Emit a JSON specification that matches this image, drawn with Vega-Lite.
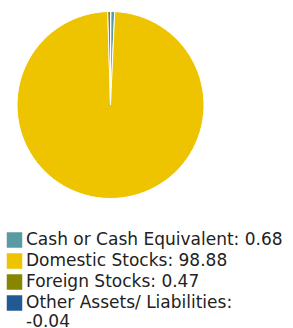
{
  "$schema": "https://vega.github.io/schema/vega-lite/v6.json",
  "width": 221,
  "height": 210,
  "padding": 0,
  "autosize": {"type": "pad"},
  "view": {"stroke": null},
  "data": {
    "values": [
      {"category": "Cash or Cash Equivalent: 0.68", "value": 0.68, "order": 1},
      {"category": "Domestic Stocks: 98.88", "value": 98.88, "order": 2},
      {"category": "Foreign Stocks: 0.47", "value": 0.47, "order": 3},
      {"category": "Other Assets/ Liabilities: -0.04", "value": -0.04, "order": 4}
    ]
  },
  "mark": {"type": "arc", "outerRadius": 93.5, "stroke": "white", "strokeWidth": 1},
  "encoding": {
    "theta": {"field": "value", "type": "quantitative", "stack": true},
    "order": {"field": "order", "type": "quantitative"},
    "color": {
      "field": "category",
      "type": "nominal",
      "sort": null,
      "scale": {
        "domain": ["Cash or Cash Equivalent: 0.68", "Domestic Stocks: 98.88", "Foreign Stocks: 0.47", "Other Assets/ Liabilities: -0.04"],
        "range": ["#5A9AA1", "#EEC300", "#868600", "#1F5A94"]
      },
      "legend": {
        "orient": "none",
        "legendX": 6,
        "legendY": 231.5,
        "title": null,
        "symbolType": "square",
        "symbolSize": 240,
        "symbolStrokeWidth": 0,
        "symbolOpacity": 1,
        "labelFont": "DejaVu Sans",
        "labelFontSize": 17,
        "labelColor": "#222222",
        "labelLimit": 300,
        "labelOffset": 3,
        "labelLineHeight": 17,
        "rowPadding": 3,
        "labelExpr": "datum.label == 'Other Assets/ Liabilities: -0.04' ? ['Other Assets/ Liabilities:', '-0.04'] : datum.label",
        "encode": {
          "labels": {
            "update": {
              "dy": {"signal": "datum.label == 'Other Assets/ Liabilities: -0.04' ? 8.5 : 0"}
            }
          }
        }
      }
    }
  }
}
